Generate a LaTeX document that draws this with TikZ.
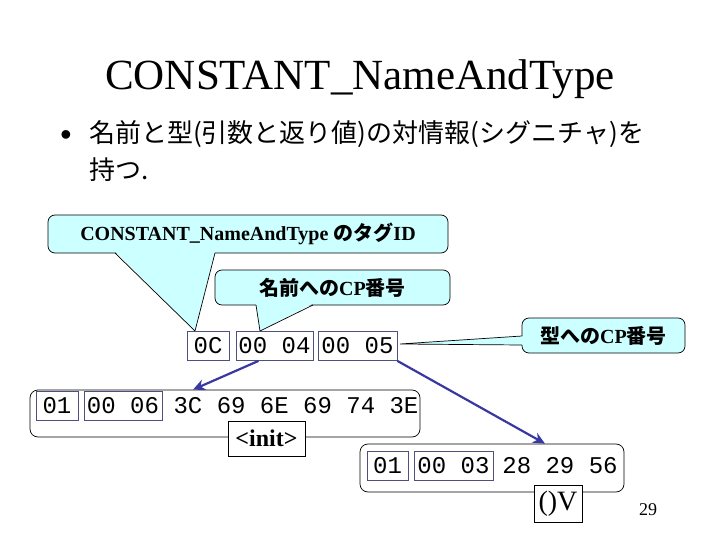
\documentclass[tikz,border=0pt]{standalone}
\usepackage{fontspec}
\setmainfont{Liberation Serif}
\newfontfamily\mono{Liberation Mono}
\newfontfamily\jp{Noto Sans CJK JP}
\newfontfamily\bulfont{Liberation Sans}
\usetikzlibrary{arrows.meta,calc}
\definecolor{callcyan}{HTML}{CCFFFF}
\definecolor{bytefr}{HTML}{505080}
\definecolor{arrowblue}{HTML}{3838A0}
\begin{document}
\begin{tikzpicture}[x=1pt,y=-1pt,
  callout/.style={draw=black, fill=callcyan, rounded corners=7pt, line width=0.7pt, inner sep=0pt,
    font=\fontsize{20}{20}\selectfont\bfseries},
  wedgefill/.style={fill=callcyan},
  wedgeline/.style={draw=black, line width=0.7pt},
  bytebox/.style={draw=bytefr, line width=0.8pt, inner sep=0pt, minimum height=29pt,
    font=\mono\fontsize{24}{24}\selectfont, text height=15pt, text depth=0pt},
  bytetext/.style={inner sep=0pt, font=\mono\fontsize{24}{24}\selectfont, text height=15pt, text depth=0pt},
  strframe/.style={draw=black, rounded corners=8pt, line width=0.7pt, inner sep=0pt},
  labelbox/.style={draw=black, fill=white, line width=0.7pt, inner sep=0pt},
  arr/.style={draw=arrowblue, line width=2.2pt, -{Stealth[length=12pt,width=11pt]}}
]
\useasboundingbox (0,0) rectangle (720,540);

% title and bullet text
\node[anchor=base, font=\fontsize{43}{43}\selectfont] (title) at (360,90) {CONSTANT\_NameAndType};
\node[font=\bulfont\fontsize{32}{32}\selectfont] (bul) at (66,138) {•};
\node[anchor=base west, inner sep=0pt, font=\jp\fontsize{26}{26}\selectfont] (line1) at (89,143) {名前と型(引数と返り値)の対情報(シグニチャ)を};
\node[anchor=base west, inner sep=0pt, font=\jp\fontsize{26}{26}\selectfont] (line2) at (89,180) {持つ.};

% callout 1
\node[callout, minimum width=400pt, minimum height=38pt] (c1) at (248,234)
  {CONSTANT\_NameAndType {\jp\bfseries のタグ}ID};
\coordinate (c1a) at (115,253);
\coordinate (c1b) at (215,253);
\coordinate (t1) at (195,331);
\fill[wedgefill] ($(c1a)+(0,-1.5)$) -- (t1) -- ($(c1b)+(0,-1.5)$) -- cycle;
\draw[wedgeline] (c1a) -- (t1) -- (c1b);

% callout 2
\node[callout, minimum width=235pt, minimum height=35pt] (c2) at (332.5,287.5)
  {{\jp\bfseries 名前への}CP{\jp\bfseries 番号}};
\coordinate (c2a) at (256,305);
\coordinate (c2b) at (313,305);
\coordinate (t2) at (260,331);
\fill[wedgefill] ($(c2a)+(0,-1.5)$) -- (t2) -- ($(c2b)+(0,-1.5)$) -- cycle;
\draw[wedgeline] (c2a) -- (t2) -- (c2b);

% callout 3
\node[callout, minimum width=163pt, minimum height=35pt] (c3) at (603.5,335.5)
  {{\jp\bfseries 型への}CP{\jp\bfseries 番号}};
\coordinate (c3a) at (522,336);
\coordinate (c3b) at (522,345);
\coordinate (t3) at (400,344);
\fill[wedgefill] ($(c3a)+(1.5,0)$) -- (t3) -- ($(c3b)+(1.5,0)$) -- cycle;
\draw[wedgeline] (c3a) -- (t3) -- (c3b);

% row 1 bytes
\node[bytebox, minimum width=42pt] (b0C) at (208,346) {0C};
\node[bytebox, minimum width=77pt] (b0004) at (274.5,346) {00 04};
\node[bytebox, minimum width=79pt] (b0005) at (357.5,346) {00 05};

% string <init>
\node[strframe, minimum width=390pt, minimum height=47pt] (s1) at (225,413.5) {};
\node[bytebox, minimum width=42pt] (s1tag) at (57,405.5) {01};
\node[bytebox, minimum width=78pt] (s1len) at (123,405.5) {00 06};
\node[bytetext] (s1txt) at (296,405.5) {3C 69 6E 69 74 3E};
\node[labelbox, minimum width=77pt, minimum height=35pt, font=\fontsize{24}{24}\selectfont\bfseries] (init) at (266.5,438.5) {<init>};

% string ()V
\node[strframe, minimum width=264pt, minimum height=48pt] (s2) at (492,468) {};
\node[bytebox, minimum width=41pt] (s2tag) at (387.5,465.5) {01};
\node[bytebox, minimum width=79pt] (s2len) at (453.5,465.5) {00 03};
\node[bytetext] (s2txt) at (560,465.5) {28 29 56};
\node[labelbox, minimum width=48pt, minimum height=37pt, font=\fontsize{28}{28}\selectfont] (desc) at (558,503.5) {()V};

% arrows
\draw[arr] ([xshift=-16pt]b0004.south) -- ([xshift=-32pt]s1.north);
\draw[arr] (b0005.south east) -- ([xshift=53pt]s2.north);

% page number
\node[font=\fontsize{18}{18}\selectfont] (pnum) at (648,510) {29};
\end{tikzpicture}
\end{document}
